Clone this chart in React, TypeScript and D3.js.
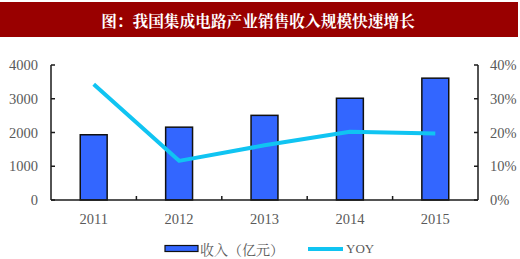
import React from "react";
import * as d3 from "d3";

const years = ["2011", "2012", "2013", "2014", "2015"];
const revenue = [1933, 2158, 2508, 3015, 3610];
const yoy = [0.343, 0.116, 0.162, 0.202, 0.197];
const leftTicks = [0, 1000, 2000, 3000, 4000];
const rightTicks = [0, 0.1, 0.2, 0.3, 0.4];
const title = "图：我国集成电路产业销售收入规模快速增长";
const legendBar = "收入（亿元）";
const legendLine = "YOY";

export default function App() {
  const W = 520, H = 259;
  const left = 51, right = 478, top = 65, bottom = 200;
  const x = d3.scaleBand().domain(years).range([left, right]).padding(0);
  const yL = d3.scaleLinear().domain([0, 4000]).range([bottom, top]);
  const yR = d3.scaleLinear().domain([0, 0.4]).range([bottom, top]);
  const bw = x.bandwidth() * 0.315;
  const cx = (d: string) => (x(d) as number) + x.bandwidth() / 2;
  const line = d3
    .line<number>()
    .x((_, i) => cx(years[i]))
    .y((d) => yR(d));
  const axisColor = "#1a1a1a";
  const textColor = "#5a5a5a";
  const font = "'Liberation Serif', 'Times New Roman', serif";
  return (
    <svg width={W} height={H} style={{ position: "absolute", left: 0, top: 0 }} fontFamily={font}>
      <rect x={0} y={0} width={W} height={H} fill="#fff" />
      <rect x={0} y={2} width={518} height={35} fill="#990000" />
      <text x={258} y={20} fill="#fff" fontSize={15.7} fontWeight="bold" textAnchor="middle" dominantBaseline="central"
        fontFamily="'Noto Serif CJK SC', 'Noto Sans CJK SC', serif">
        {title}
      </text>
      {years.map((d, i) => (
        <rect key={d} x={cx(d) - bw / 2} y={yL(revenue[i])} width={bw} height={bottom - yL(revenue[i])}
          fill="#3366ff" stroke="#111" strokeWidth={1.5} />
      ))}
      {/* left axis */}
      <line x1={left} x2={left} y1={top} y2={bottom} stroke={axisColor} strokeWidth={1.5} />
      {leftTicks.map((t) => (
        <g key={t}>
          <line x1={left} x2={left + 4} y1={yL(t)} y2={yL(t)} stroke={axisColor} strokeWidth={1.5} />
          <text x={38} y={yL(t)} fill={textColor} fontSize={14.5} textAnchor="end" dominantBaseline="central">
            {t}
          </text>
        </g>
      ))}
      {/* right axis */}
      <line x1={right} x2={right} y1={top} y2={bottom} stroke={axisColor} strokeWidth={1.5} />
      {rightTicks.map((t) => (
        <g key={t}>
          <line x1={right - 4} x2={right} y1={yR(t)} y2={yR(t)} stroke={axisColor} strokeWidth={1.5} />
          <text x={490} y={yR(t)} fill={textColor} fontSize={14.5} textAnchor="start" dominantBaseline="central">
            {d3.format(".0%")(t)}
          </text>
        </g>
      ))}
      {/* x axis */}
      <line x1={left} x2={right} y1={bottom} y2={bottom} stroke={axisColor} strokeWidth={1.5} />
      {years.map((d, i) => (
        <g key={d}>
          {i > 0 && (
            <line x1={x(d)} x2={x(d)} y1={bottom} y2={bottom - 4} stroke={axisColor} strokeWidth={1.5} />
          )}
          <text x={cx(d)} y={219} fill={textColor} fontSize={14.5} textAnchor="middle" dominantBaseline="central">
            {d}
          </text>
        </g>
      ))}
      <path d={line(yoy) || ""} fill="none" stroke="#10c4f2" strokeWidth={4} strokeLinejoin="round" />
      {/* legend */}
      <rect x={165} y={245.5} width={33} height={6} fill="#3366ff" stroke="#111" strokeWidth={1.2} />
      <text x={200} y={248.5} fill={textColor} fontSize={14} dominantBaseline="central"
        fontFamily="'Noto Serif CJK SC', 'Noto Sans CJK SC', serif">
        {legendBar}
      </text>
      <line x1={308} x2={343} y1={249} y2={249} stroke="#10c4f2" strokeWidth={4} />
      <text x={346} y={248.5} fill={textColor} fontSize={13} dominantBaseline="central">
        {legendLine}
      </text>
    </svg>
  );
}
